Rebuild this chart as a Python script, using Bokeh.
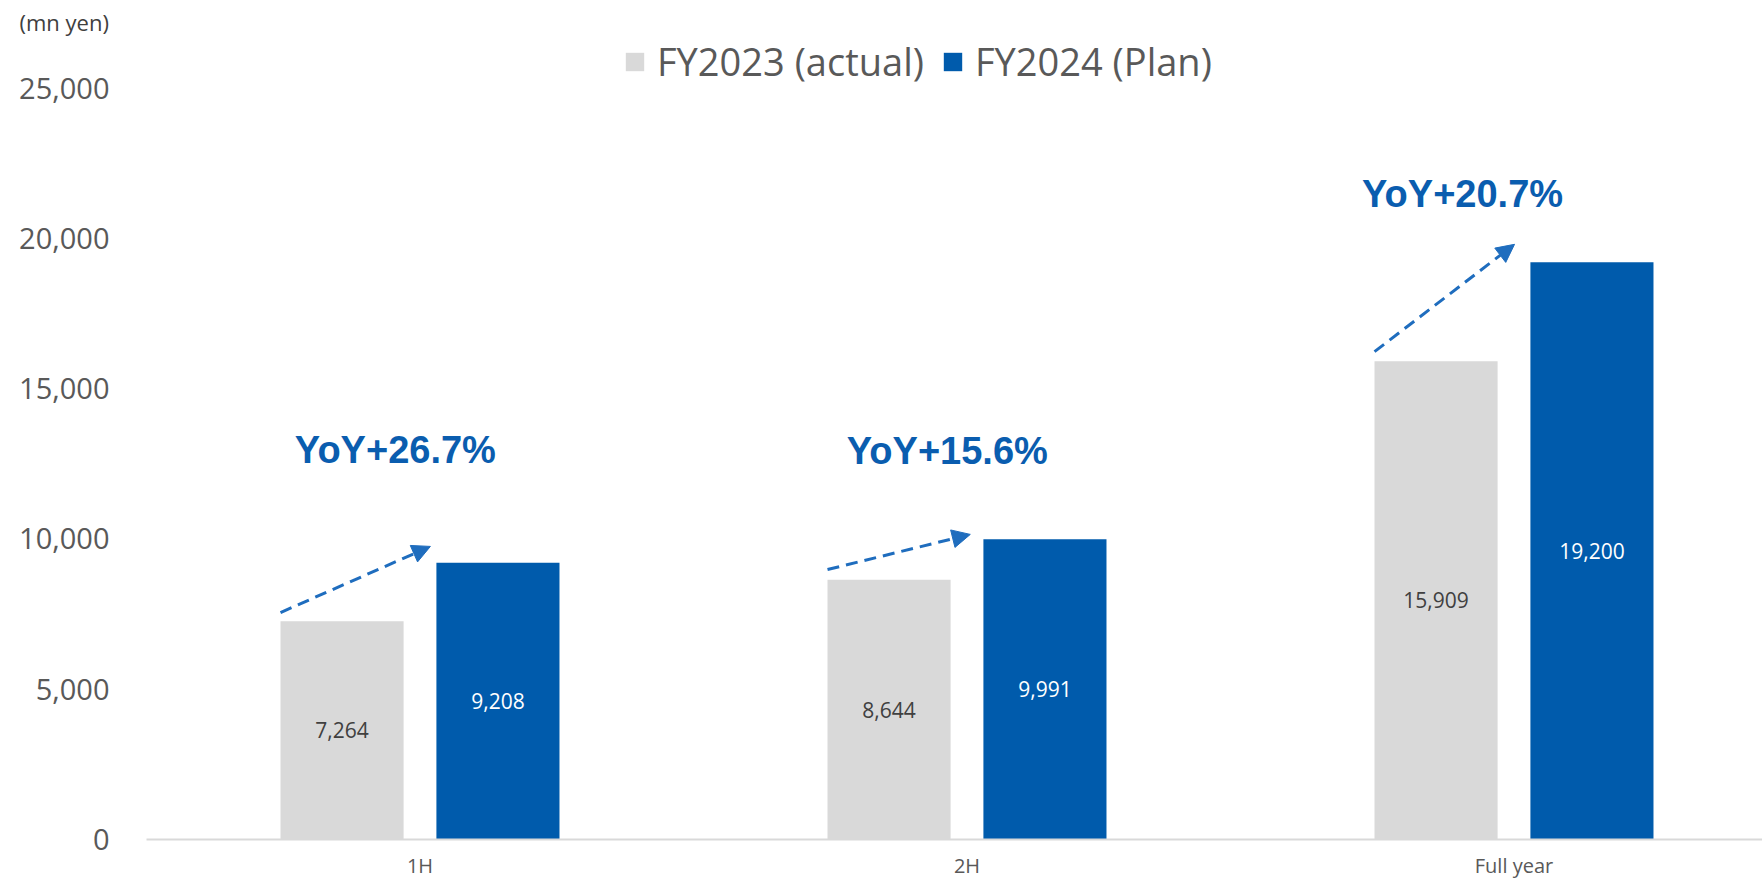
from bokeh.plotting import figure
from bokeh.models import (Range1d, FixedTicker, NumeralTickFormatter, ColumnDataSource,
                          Legend, LegendItem, Arrow, NormalHead)
from bokeh.core.properties import value
from bokeh.embed import file_html
from bokeh.resources import INLINE

# ---------------- data ----------------
categories = ["1H", "2H", "Full year"]
fy2023_actual = [7264, 8644, 15909]
fy2024_plan = [9208, 9991, 19200]
yoy_labels = ["YoY+26.7%", "YoY+15.6%", "YoY+20.7%"]
series_names = ["FY2023 (actual)", "FY2024 (Plan)"]
y_ticks = [0, 5000, 10000, 15000, 20000, 25000]
unit_label = "(mn yen)"

# ---------------- annotation placement ----------------
yoy_dx = [-0.045, -0.036, -0.094]
yoy_y = [12970, 12910, 21490]
arrow_y0 = [7550, 8980, 16230]
arrow_y1 = [9750, 10150, 19800]
arrow_x1_off = [0.019, 0.006, 0.001]

# ---------------- styles ----------------
GRAY = "#D9D9D9"
BLUE = "#005BAC"
YOY_COLOR = "#0A5DAF"
ARROW_COLOR = "#1F6DBE"
TICK_COLOR = "#595959"
FONT = "Open Sans"

W, H = 1762, 881
LEFT = 146
TOP = 36
BOTTOM = 42
X_END = (W - LEFT) / 547
Y_END = (H - BOTTOM - TOP) / 0.03006
BAR_W = 0.225
OFF = 0.1425

p = figure(width=W, height=H, output_backend="svg", toolbar_location=None,
           x_range=Range1d(0, X_END), y_range=Range1d(0, Y_END),
           min_border_left=LEFT, min_border_right=0, min_border_top=TOP,
           min_border_bottom=BOTTOM)
p.outline_line_color = None
p.grid.visible = False
p.background_fill_color = "white"
p.border_fill_color = "white"

# unit label as a left-aligned title above the axis
p.title.text = unit_label
p.title.align = "left"
p.title.offset = -127
p.title.standoff = 0
p.title.text_font = FONT
p.title.text_font_size = "22px"
p.title.text_font_style = "normal"
p.title.text_color = "#404040"

centers = [i + 0.5 for i in range(len(categories))]

src = ColumnDataSource(dict(
    x23=[c - OFF for c in centers], x24=[c + OFF for c in centers],
    v23=fy2023_actual, v24=fy2024_plan,
    h23=[v / 2 for v in fy2023_actual], h24=[v / 2 for v in fy2024_plan],
    t23=[f"{v:,}" for v in fy2023_actual], t24=[f"{v:,}" for v in fy2024_plan],
))

r23 = p.vbar(x="x23", top="v23", width=BAR_W, source=src, fill_color=GRAY, line_color=None)
r24 = p.vbar(x="x24", top="v24", width=BAR_W, source=src, fill_color=BLUE, line_color=None)

p.text(x="x23", y="h23", text="t23", source=src, text_align="center", text_baseline="middle",
       text_font=value(FONT), text_font_size="21px", text_color="#404040")
p.text(x="x24", y="h24", text="t24", source=src, text_align="center", text_baseline="middle",
       text_font=value(FONT), text_font_size="21px", text_color="white")

# YoY labels
p.text(x=[c + d for c, d in zip(centers, yoy_dx)], y=yoy_y, text=yoy_labels,
       text_align="center", text_baseline="middle", text_font=value("Liberation Sans"),
       text_font_style="bold", text_font_size="38px", text_color=YOY_COLOR)

# dashed arrows
for i, c in enumerate(centers):
    x0 = c - OFF - BAR_W / 2
    x1 = c + arrow_x1_off[i]
    p.add_layout(Arrow(end=NormalHead(size=18, fill_color=ARROW_COLOR, line_color=ARROW_COLOR,
                                      line_width=1),
                       x_start=x0, y_start=arrow_y0[i], x_end=x1, y_end=arrow_y1[i],
                       line_color=ARROW_COLOR, line_width=3, line_dash="12 7"))

# axes
p.yaxis.ticker = FixedTicker(ticks=y_ticks)
p.yaxis.formatter = NumeralTickFormatter(format="0,0")
p.yaxis.axis_line_color = None
p.yaxis.major_tick_line_color = None
p.yaxis.minor_tick_line_color = None
p.yaxis.major_label_text_font = FONT
p.yaxis.major_label_text_font_size = "29px"
p.yaxis.major_label_text_color = TICK_COLOR
p.yaxis.major_label_standoff = 31

p.xaxis.ticker = FixedTicker(ticks=centers)
p.xaxis.major_label_overrides = {c: n for c, n in zip(centers, categories)}
p.xaxis.axis_line_color = GRAY
p.xaxis.axis_line_width = 2
p.xaxis.major_tick_line_color = None
p.xaxis.minor_tick_line_color = None
p.xaxis.major_label_text_font = FONT
p.xaxis.major_label_text_font_size = "20px"
p.xaxis.major_label_text_color = TICK_COLOR
p.xaxis.major_label_standoff = 6

# legend
legend = Legend(items=[LegendItem(label=series_names[0], renderers=[r23]),
                       LegendItem(label=series_names[1], renderers=[r24])],
                orientation="horizontal", location=(477, 752),
                glyph_width=23, glyph_height=23, label_standoff=11, spacing=17,
                padding=0, margin=0, border_line_color=None, background_fill_alpha=0,
                label_text_font=FONT, label_text_font_size="38px",
                label_text_color=TICK_COLOR)
p.add_layout(legend)

open("out.html", "w").write(file_html(p, INLINE))
